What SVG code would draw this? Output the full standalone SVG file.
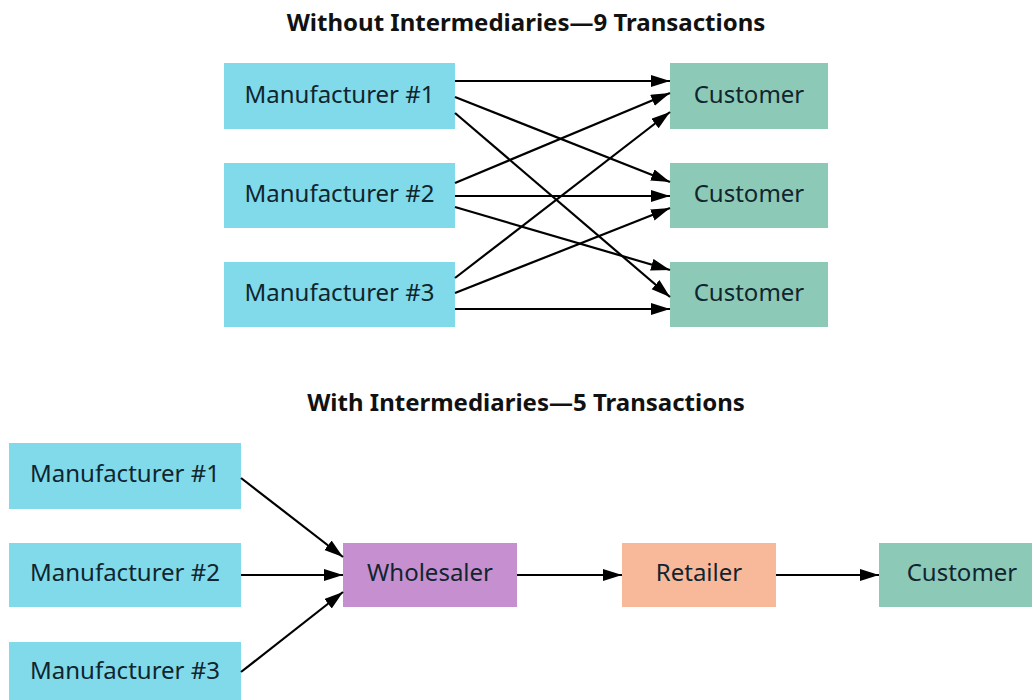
<svg xmlns="http://www.w3.org/2000/svg" width="1032" height="700" viewBox="0 0 1032 700">
<style>
.title{font-family:"Noto Sans","Open Sans",sans-serif;font-weight:bold;font-size:24px;fill:#111;text-anchor:middle}
.lbl{font-family:"Noto Sans","Open Sans",sans-serif;font-size:24px;fill:#10252e;text-anchor:middle;dominant-baseline:central}
.mfr{fill:#80dae9}
.cust{fill:#8dc9b7}
.whl{fill:#c690d0}
.ret{fill:#f8b99b}
.conn line{stroke:#000;stroke-width:2.2;marker-end:url(#ah)}
</style>
<defs>
<marker id="ah" markerUnits="userSpaceOnUse" markerWidth="20" markerHeight="14" refX="19" refY="6" orient="auto">
<path d="M0,0 L19,6 L0,12 z" fill="#000"/>
</marker>
</defs>
<rect width="1032" height="700" fill="#fff"/>
<text class="title" x="526" y="31">Without Intermediaries—9 Transactions</text>
<text class="title" x="526" y="411">With Intermediaries—5 Transactions</text>

<g id="top-m1"><rect class="mfr" x="224" y="63" width="231" height="66"/><text class="lbl" x="339.5" y="93">Manufacturer #1</text></g>
<g id="top-m2"><rect class="mfr" x="224" y="163" width="231" height="65"/><text class="lbl" x="339.5" y="192">Manufacturer #2</text></g>
<g id="top-m3"><rect class="mfr" x="224" y="262" width="231" height="65"/><text class="lbl" x="339.5" y="291">Manufacturer #3</text></g>
<g id="top-c1"><rect class="cust" x="670" y="63" width="158" height="66"/><text class="lbl" x="749" y="93">Customer</text></g>
<g id="top-c2"><rect class="cust" x="670" y="163" width="158" height="65"/><text class="lbl" x="749" y="192">Customer</text></g>
<g id="top-c3"><rect class="cust" x="670" y="262" width="158" height="65"/><text class="lbl" x="749" y="291">Customer</text></g>

<g id="bot-m1"><rect class="mfr" x="9" y="443" width="232" height="66"/><text class="lbl" x="125" y="472">Manufacturer #1</text></g>
<g id="bot-m2"><rect class="mfr" x="9" y="543" width="232" height="64"/><text class="lbl" x="125" y="571">Manufacturer #2</text></g>
<g id="bot-m3"><rect class="mfr" x="9" y="642" width="232" height="66"/><text class="lbl" x="125" y="669">Manufacturer #3</text></g>
<g id="wholesaler"><rect class="whl" x="343" y="543" width="174" height="64"/><text class="lbl" x="430" y="571">Wholesaler</text></g>
<g id="retailer"><rect class="ret" x="622" y="543" width="154" height="64"/><text class="lbl" x="699" y="571">Retailer</text></g>
<g id="bot-c"><rect class="cust" x="879" y="543" width="160" height="64"/><text class="lbl" x="962" y="571">Customer</text></g>

<g id="connectors" class="conn">
<line x1="455" y1="81" x2="670" y2="81"/>
<line x1="455" y1="97" x2="670" y2="182"/>
<line x1="455" y1="113" x2="670" y2="297"/>
<line x1="455" y1="183" x2="670" y2="93"/>
<line x1="455" y1="196" x2="670" y2="196"/>
<line x1="455" y1="207" x2="670" y2="270"/>
<line x1="455" y1="278" x2="670" y2="112"/>
<line x1="455" y1="293" x2="670" y2="208"/>
<line x1="455" y1="309" x2="670" y2="309"/>
<line x1="241" y1="478" x2="343" y2="557"/>
<line x1="241" y1="575" x2="343" y2="575"/>
<line x1="241" y1="672" x2="343" y2="592"/>
<line x1="517" y1="575" x2="622" y2="575"/>
<line x1="776" y1="575" x2="879" y2="575"/>
</g>
</svg>
